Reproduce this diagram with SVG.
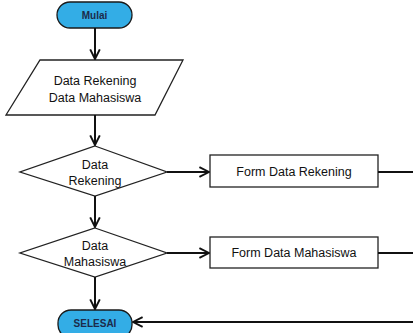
<svg xmlns="http://www.w3.org/2000/svg" width="413" height="333" viewBox="0 0 413 333">
<style>
.term{fill:#33ade6;stroke:#1a1a1a;stroke-width:1.3}
.box{fill:#fff;stroke:#222;stroke-width:1.3}
.t{font-family:"Liberation Sans",Arial,sans-serif;font-size:12.5px;fill:#111;text-anchor:middle}
.tt{font-family:"Liberation Sans",Arial,sans-serif;font-size:10px;font-weight:bold;fill:#1c2a4a;text-anchor:middle}
.c{fill:none;stroke:#111;stroke-width:2}
</style>
<defs>
<marker id="ah" viewBox="0 0 10 10" refX="9" refY="5" markerWidth="6" markerHeight="6" orient="auto" markerUnits="strokeWidth">
<path d="M1,1 L9,5 L1,9" fill="none" stroke="#111" stroke-width="1.6"/>
</marker>
</defs>
<g id="mulai"><rect class="term" x="57" y="2" width="75" height="26" rx="13"/><text class="tt" x="94.5" y="19">Mulai</text></g>
<g id="input"><polygon class="box" points="40,60 183,60 155,115 6,115"/><text class="t" x="95" y="85">Data Rekening</text><text class="t" x="95" y="102">Data Mahasiswa</text></g>
<g id="dec1"><polygon class="box" points="95,146 167,172 95,196 20,172"/><text class="t" x="95" y="169">Data</text><text class="t" x="95" y="185">Rekening</text></g>
<g id="dec2"><polygon class="box" points="95,228 167,253 95,277 20,253"/><text class="t" x="95" y="250">Data</text><text class="t" x="95" y="266">Mahasiswa</text></g>
<g id="form1"><rect class="box" x="210" y="155" width="168" height="32"/><text class="t" x="294" y="176">Form Data Rekening</text></g>
<g id="form2"><rect class="box" x="210" y="237" width="168" height="31"/><text class="t" x="294" y="257">Form Data Mahasiswa</text></g>
<g id="selesai"><rect class="term" x="58" y="310" width="74" height="28" rx="13"/><text class="tt" x="95" y="327">SELESAI</text></g>
<g id="connectors">
<line class="c" x1="95" y1="28" x2="95" y2="59" marker-end="url(#ah)"/>
<line class="c" x1="95" y1="115" x2="95" y2="145" marker-end="url(#ah)"/>
<line class="c" x1="95" y1="196" x2="95" y2="227" marker-end="url(#ah)"/>
<line class="c" x1="95" y1="277" x2="95" y2="309" marker-end="url(#ah)"/>
<line class="c" x1="167" y1="172" x2="209" y2="172" marker-end="url(#ah)"/>
<line class="c" x1="167" y1="253" x2="209" y2="253" marker-end="url(#ah)"/>
<line class="c" x1="378" y1="172" x2="413" y2="172"/>
<line class="c" x1="378" y1="253" x2="413" y2="253"/>
<line class="c" x1="413" y1="322" x2="133" y2="322" marker-end="url(#ah)"/>
</g>
</svg>
